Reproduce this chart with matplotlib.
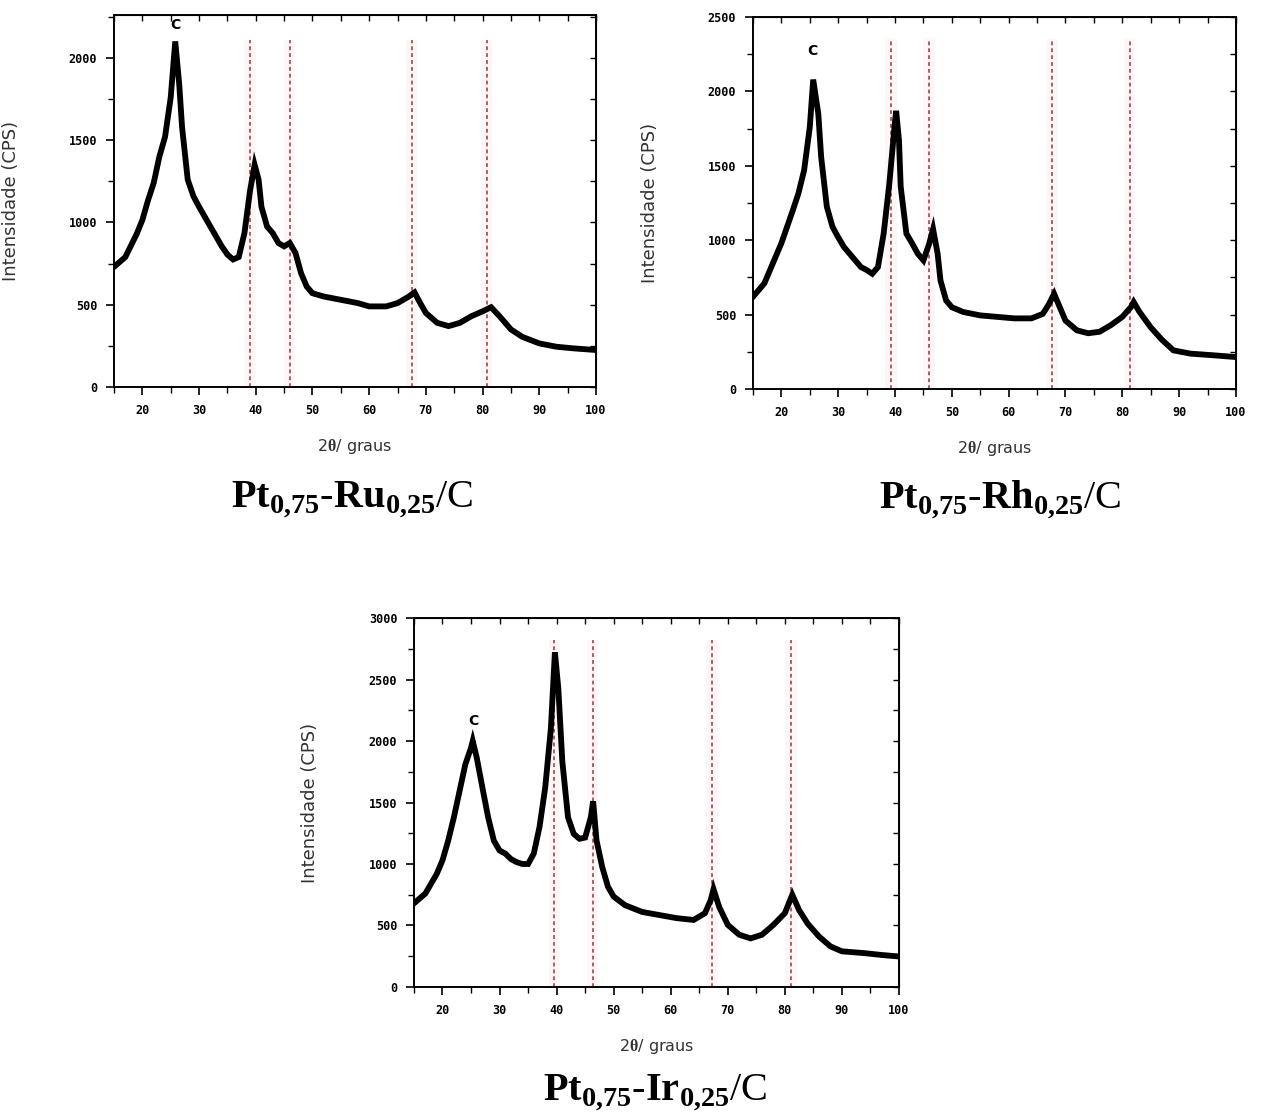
import numpy as np
import matplotlib
matplotlib.use('Agg')
import matplotlib.pyplot as plt
from matplotlib.ticker import MultipleLocator

plt.rcParams['mathtext.fontset'] = 'custom'
plt.rcParams['mathtext.rm'] = 'Liberation Serif'
plt.rcParams['mathtext.bf'] = 'Liberation Serif:bold'

# Pt0,75-Ru0,25/C
ru_x = [15, 17, 19, 20, 21, 22, 23, 24, 25, 25.8, 26.5, 27, 28, 29, 30, 31, 32, 33, 34, 35,
        36, 37, 38, 39, 39.8, 40.5, 41, 42, 43, 44, 45, 46, 47, 48, 49, 50, 52, 55, 58, 60,
        63, 65, 67, 68, 69, 70, 72, 74, 76, 78, 80, 81.5, 83, 85, 87, 90, 93, 96, 100]
ru_y = [730, 790, 930, 1015, 1135, 1240, 1400, 1520, 1760, 2100, 1840, 1580, 1260, 1160, 1095, 1035, 975, 915, 855, 805,
        775, 790, 935, 1195, 1350, 1260, 1095, 975, 935, 875, 855, 875, 815, 690, 610, 570, 550, 530, 510, 490,
        490, 510, 550, 575, 510, 450, 390, 370, 390, 430, 460, 485, 430, 350, 305, 265, 245, 235, 225]

# Pt0,75-Rh0,25/C
rh_x = [15, 17, 19, 20, 21, 22, 23, 24, 25, 25.6, 26.5, 27, 28, 29, 30, 31, 32, 33, 34, 35,
        36, 37, 38, 39, 40, 40.2, 40.7, 41, 42, 43, 44, 45, 46, 46.7, 47.5, 48, 49, 50, 52, 55,
        58, 61, 64, 66, 67, 68, 69, 70, 72, 74, 76, 78, 80, 81.5, 82, 83, 85, 87, 89, 92, 96, 100]
rh_y = [620, 710, 890, 980, 1090, 1200, 1315, 1470, 1760, 2080, 1850, 1560, 1225, 1090, 1020, 955, 910, 865, 820, 800,
        775, 820, 1045, 1380, 1800, 1870, 1670, 1360, 1045, 980, 910, 865, 975, 1075, 910, 730, 595, 550, 518, 495,
        485, 475, 475, 505, 565, 640, 550, 460, 395, 375, 385, 430, 485, 550, 585, 520, 415, 330, 260, 238, 227, 215]

# Pt0,75-Ir0,25/C
ir_x = [15, 17, 19, 20, 21, 22, 23, 24, 25, 25.3, 26, 27, 28, 29, 30, 31, 32, 33, 34, 35,
        36, 37, 38, 39, 39.7, 40.3, 41, 42, 43, 44, 45, 46, 46.4, 47, 48, 49, 50, 52, 55, 58,
        61, 64, 66, 67, 67.5, 68.5, 70, 72, 74, 76, 78, 80, 81.3, 82.5, 84, 86, 88, 90, 94, 97, 100]
ir_y = [680, 760, 920, 1030, 1190, 1380, 1595, 1810, 1945, 2000, 1865, 1620, 1380, 1190, 1110, 1085, 1040, 1015, 1000, 1000,
        1085, 1300, 1620, 2105, 2720, 2430, 1835, 1380, 1245, 1205, 1215, 1380, 1510, 1190, 975, 815, 735, 665, 610, 585,
        560, 545, 600, 705, 795, 650, 505, 425, 395, 425, 505, 600, 750, 625, 515, 410, 330, 290, 275, 260, 248]

pt_lines = [[39.0, 46.0, 67.5, 80.7],
            [39.3, 46.0, 67.7, 81.3],
            [39.6, 46.3, 67.2, 81.1]]
line_tops = [2110, 2350, 2820]
c_pos = [(25.8, 2160), (25.5, 2225), (25.4, 2105)]
ymax = [2260, 2500, 3000]
titles = [r'$\mathbf{Pt}_{\mathbf{0{,}75}}\mathbf{\text{-}Ru}_{\mathbf{0{,}25}}\mathrm{/C}$',
          r'$\mathbf{Pt}_{\mathbf{0{,}75}}\mathbf{\text{-}Rh}_{\mathbf{0{,}25}}\mathrm{/C}$',
          r'$\mathbf{Pt}_{\mathbf{0{,}75}}\mathbf{\text{-}Ir}_{\mathbf{0{,}25}}\mathrm{/C}$']

fig = plt.figure(figsize=(12.64, 11.17), dpi=100)
rects = [[0.0902, 0.6535, 0.3813, 0.3330],
         [0.5957, 0.6517, 0.3821, 0.3330],
         [0.3275, 0.1164, 0.3837, 0.3303]]
title_pos = [(352 / 1264, 1 - 500 / 1117), (1000 / 1264, 1 - 500 / 1117), (655 / 1264, 1 - 1093 / 1117)]
series = [(ru_x, ru_y), (rh_x, rh_y), (ir_x, ir_y)]

tick_font = {'family': 'DejaVu Sans Mono', 'weight': 'bold', 'size': 8.5}

for i in range(3):
    ax = fig.add_axes(rects[i])
    x, y = series[i]
    for xv in pt_lines[i]:
        ax.axvspan(xv - 1.0, xv + 1.0, ymax=line_tops[i] / ymax[i], color='#fdf6f6', lw=0, zorder=0)
        ax.plot([xv, xv], [0, line_tops[i]], color='#a0303c', lw=1.1, ls=(0, (2.5, 2)), zorder=1)
    ax.plot(x, y, color='black', lw=4.2, solid_joinstyle='miter', zorder=2)
    ax.text(c_pos[i][0], c_pos[i][1], 'C', ha='center', va='bottom', fontsize=10, fontweight='bold')

    ax.set_xlim(15, 100)
    ax.set_ylim(0, ymax[i])
    ax.xaxis.set_major_locator(MultipleLocator(10))
    ax.xaxis.set_minor_locator(MultipleLocator(5))
    ax.yaxis.set_major_locator(MultipleLocator(500))
    ax.yaxis.set_minor_locator(MultipleLocator(250))
    ax.tick_params(which='major', direction='out', length=6, width=1.2, pad=6)
    ax.tick_params(which='minor', direction='out', length=4, width=1.0)
    for lab in ax.get_xticklabels() + ax.get_yticklabels():
        lab.set_fontproperties(tick_font)
    for sp in ax.spines.values():
        sp.set_linewidth(1.4)

    # mirrored ticks pointing inwards on top and right
    top = ax.secondary_xaxis('top')
    top.xaxis.set_major_locator(MultipleLocator(10))
    top.xaxis.set_minor_locator(MultipleLocator(5))
    top.tick_params(which='both', direction='in', labeltop=False, length=4, width=1.0)
    right = ax.secondary_yaxis('right')
    right.yaxis.set_major_locator(MultipleLocator(500))
    right.yaxis.set_minor_locator(MultipleLocator(250))
    right.tick_params(which='both', direction='in', labelright=False, length=4, width=1.0)

    ax.set_ylabel('Intensidade (CPS)', fontsize=13, color='#333333')
    ax.yaxis.set_label_coords(-0.195, 0.5)
    ax.set_xlabel(r'2$\mathbf{\theta}$/ graus', fontsize=11.5, color='#333333')
    ax.xaxis.set_label_coords(0.5, -0.135)

    fig.text(title_pos[i][0], title_pos[i][1], titles[i], ha='center', va='center', fontsize=29)

fig.savefig('out.png', dpi=100)
